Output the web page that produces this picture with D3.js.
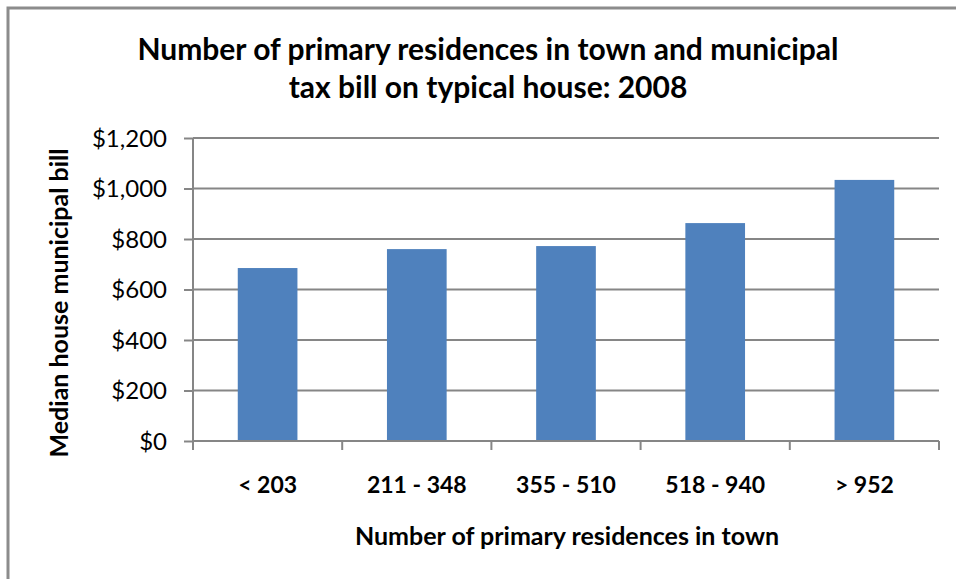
<!DOCTYPE html>
<html>
<head>
<meta charset="utf-8">
<script src="https://cdn.jsdelivr.net/npm/d3@7"></script>
<style>
  body { margin: 0; background: #fff; }
  svg { display: block; }
  svg text { font-family: Lato, 'Open Sans', sans-serif; }
</style>
</head>
<body>
<div id="chart"></div>
<script>
const categories = ['< 203', '211 - 348', '355 - 510', '518 - 940', '> 952'];
const medianBill = [685, 760, 772, 863, 1034];
const yTicks = [0, 200, 400, 600, 800, 1000, 1200];
const titleLines = ['Number of primary residences in town and municipal', 'tax bill on typical house: 2008'];
const xTitle = 'Number of primary residences in town';
const yTitle = 'Median house municipal bill';

const W = 956, H = 579;
const PLOT = { left: 193, right: 939, top: 138, bottom: 441 };
const AXIS_GRAY = '#868686';
const BAR_BLUE = '#4f81bd';

const data = categories.map((c, i) => ({ cat: c, value: medianBill[i] }));

const svg = d3.select('#chart').append('svg')
  .attr('width', W)
  .attr('height', H);

// chart frame (runs off the right and bottom of the picture)
svg.append('rect')
  .attr('x', 8).attr('y', 8)
  .attr('width', 970).attr('height', 600)
  .attr('fill', 'none')
  .attr('stroke', '#8c8c8c')
  .attr('stroke-width', 3);

const x = d3.scaleBand()
  .domain(categories)
  .range([PLOT.left, PLOT.right])
  .paddingInner(0.6)
  .paddingOuter(0.3);

const y = d3.scaleLinear()
  .domain([0, 1200])
  .range([PLOT.bottom, PLOT.top]);

// gridlines
svg.append('g')
  .selectAll('line')
  .data(yTicks.filter((d) => d > 0))
  .join('line')
  .attr('x1', PLOT.left).attr('x2', PLOT.right)
  .attr('y1', (d) => y(d)).attr('y2', (d) => y(d))
  .attr('stroke', AXIS_GRAY)
  .attr('stroke-width', 2);

// bars
svg.append('g')
  .selectAll('rect')
  .data(data)
  .join('rect')
  .attr('x', (d) => x(d.cat))
  .attr('width', x.bandwidth())
  .attr('y', (d) => y(d.value))
  .attr('height', (d) => y(0) - y(d.value))
  .attr('fill', BAR_BLUE);

// y axis
const yAxisG = svg.append('g')
  .attr('transform', `translate(${PLOT.left},0)`)
  .call(d3.axisLeft(y).tickValues(yTicks).tickSize(9).tickPadding(17)
    .tickFormat(d3.format('$,.0f')));
yAxisG.attr('font-family', null);
yAxisG.select('.domain')
  .attr('d', `M0,${PLOT.top}V${PLOT.bottom + 9}`)
  .attr('stroke', AXIS_GRAY).attr('stroke-width', 2);
yAxisG.selectAll('.tick line').attr('stroke', AXIS_GRAY).attr('stroke-width', 2);
yAxisG.selectAll('.tick text')
  .attr('fill', '#000')
  .style('font-size', '24px')
  .attr('dy', '0.35em');

// x axis: labels centred on bands, ticks on band boundaries
const xAxisG = svg.append('g')
  .attr('transform', `translate(0,${PLOT.bottom})`)
  .call(d3.axisBottom(x).tickSize(0).tickPadding(36));
xAxisG.attr('font-family', null);
xAxisG.select('.domain')
  .attr('d', `M${PLOT.left},0H${PLOT.right}`)
  .attr('stroke', AXIS_GRAY).attr('stroke-width', 2);
xAxisG.selectAll('.tick text')
  .attr('fill', '#000')
  .style('font-size', '23px')
  .style('font-weight', 'bold');

const step = x.step();
const bounds = d3.range(categories.length + 1).map((i) => x(categories[0]) - (step - x.bandwidth()) / 2 + i * step);
xAxisG.append('g')
  .selectAll('line')
  .data(bounds)
  .join('line')
  .attr('x1', (d) => d).attr('x2', (d) => d)
  .attr('y1', 0).attr('y2', 9)
  .attr('stroke', AXIS_GRAY)
  .attr('stroke-width', 2);

// titles
svg.append('text')
  .attr('text-anchor', 'middle')
  .style('font-size', '30px')
  .style('font-weight', 'bold')
  .selectAll('tspan')
  .data(titleLines)
  .join('tspan')
  .attr('x', 488)
  .attr('y', (d, i) => 60 + i * 38)
  .text((d) => d);

svg.append('text')
  .attr('x', 567).attr('y', 545)
  .attr('text-anchor', 'middle')
  .style('font-size', '25px')
  .style('font-weight', 'bold')
  .text(xTitle);

svg.append('text')
  .attr('transform', 'translate(68,303) rotate(-90)')
  .attr('text-anchor', 'middle')
  .style('font-size', '25px')
  .style('font-weight', 'bold')
  .text(yTitle);
</script>
</body>
</html>
